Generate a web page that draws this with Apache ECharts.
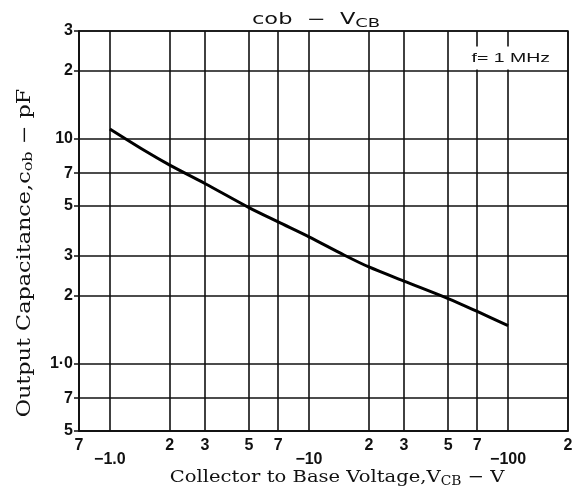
<!DOCTYPE html>
<html>
<head>
<meta charset="utf-8">
<script src="https://cdn.jsdelivr.net/npm/echarts@6/dist/echarts.min.js"></script>
<style>
html, body { margin: 0; background: #fff; }
#main { width: 577px; height: 490px; }
</style>
</head>
<body>
<div id="main"></div>
<script>
// cob - VCB, f = 1 MHz
var voltage = [1, 1.5, 2, 3, 5, 7, 10, 15, 20, 30, 50, 70, 100];
var capacitance = [11.0, 8.8, 7.6, 6.3, 4.92, 4.25, 3.65, 3.03, 2.68, 2.32, 1.94, 1.70, 1.47];

var xTicks = [0.7, 1, 2, 3, 5, 7, 10, 20, 30, 50, 70, 100, 200];
var xTickLabels = ['7', '−1.0', '2', '3', '5', '7', '−10', '2', '3', '5', '7', '−100', '2'];
var yTicks = [0.5, 0.7, 1, 2, 3, 5, 7, 10, 20, 30];
var yTickLabels = ['5', '7', '1·0', '2', '3', '5', '7', '10', '2', '3'];

function pickLabel(ticks, labels, v) {
    for (var i = 0; i < ticks.length; i++) {
        if (Math.abs(Math.log10(v) - Math.log10(ticks[i])) < 0.005) return labels[i];
    }
    return '';
}

var chart = echarts.init(document.getElementById('main'));
var pts = voltage.map(function (v, i) { return [v, capacitance[i]]; });
var ink = '#111';
var serif = 'DejaVu Serif';

var option = {
    animation: false,
    backgroundColor: '#fff',
    grid: {
        left: 79, right: 9, top: 31, bottom: 59,
        show: true, borderColor: ink, borderWidth: 1.5
    },
    xAxis: {
        type: 'log',
        logBase: 10,
        min: 0.7,
        max: 200,
        axisLine: { show: true, lineStyle: { color: ink, width: 1.5 } },
        axisTick: { show: false, customValues: xTicks },
        axisLabel: {
            customValues: xTicks,
            margin: 7,
            color: ink,
            fontFamily: 'Liberation Sans',
            fontWeight: 'bold',
            fontSize: 16,
            formatter: function (v) {
                var s = pickLabel(xTicks, xTickLabels, v);
                return s.charAt(0) === '−' ? '{d|' + s + '}' : s;
            },
            rich: {
                d: { fontFamily: 'Liberation Sans', fontWeight: 'bold', fontSize: 16, color: ink, padding: [14, 0, 0, 0] }
            }
        },
        splitLine: { show: true, lineStyle: { color: ink, width: 1.6 } }
    },
    yAxis: {
        type: 'log',
        logBase: 10,
        min: 0.5,
        max: 30,
        axisLine: { show: true, lineStyle: { color: ink, width: 1.5 } },
        axisTick: { show: true, length: 5, customValues: yTicks, lineStyle: { color: ink, width: 1.5 } },
        axisLabel: {
            customValues: yTicks,
            margin: 6,
            color: ink,
            fontFamily: 'Liberation Sans',
            fontWeight: 'bold',
            fontSize: 16,
            formatter: function (v) { return pickLabel(yTicks, yTickLabels, v); }
        },
        splitLine: { show: true, lineStyle: { color: ink, width: 1.6 } }
    },
    graphic: [
        {
            type: 'text',
            x: 252, y: 20,
            scaleX: 1.5,
            style: {
                text: '{a|cob  −  V}{b|CB}',
                verticalAlign: 'middle',
                rich: {
                    a: { fontFamily: 'DejaVu Sans', fontSize: 15, fill: ink },
                    b: { fontFamily: 'DejaVu Sans', fontSize: 12, fill: ink, padding: [7, 0, 0, 0] }
                }
            }
        },
        {
            type: 'text',
            x: 470, y: 58,
            z: 100,
            scaleX: 1.5,
            style: {
                text: 'f= 1 MHz',
                verticalAlign: 'middle',
                fontFamily: 'Liberation Sans',
                fontSize: 13,
                fill: ink,
                backgroundColor: '#fff',
                padding: [5, 1, 5, 1]
            }
        },
        {
            type: 'text',
            x: 337, y: 478,
            scaleX: 1.15,
            style: {
                text: '{a|Collector to Base Voltage,V}{b|CB}{a| − V}',
                align: 'center',
                verticalAlign: 'middle',
                rich: {
                    a: { fontFamily: serif, fontSize: 17, fill: ink },
                    b: { fontFamily: serif, fontSize: 12, fill: ink, padding: [7, 0, 0, 0] }
                }
            }
        },
        {
            type: 'text',
            x: 25, y: 253,
            rotation: Math.PI / 2,
            scaleX: 1.24,
            style: {
                text: '{a|Output Capacitance,c}{b|ob}{a| − pF}',
                align: 'center',
                verticalAlign: 'middle',
                rich: {
                    a: { fontFamily: serif, fontSize: 18, fill: ink },
                    b: { fontFamily: serif, fontSize: 13, fill: ink, padding: [7, 0, 0, 0] }
                }
            }
        }
    ],
    series: [
        {
            type: 'line',
            data: pts,
            smooth: 0.3,
            showSymbol: false,
            lineStyle: { color: '#000', width: 3 }
        }
    ]
};
chart.setOption(option);
</script>
</body>
</html>
